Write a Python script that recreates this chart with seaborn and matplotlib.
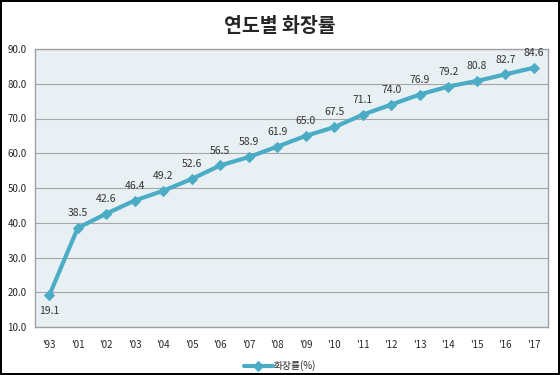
import matplotlib
matplotlib.use("Agg")
import matplotlib.pyplot as plt
import seaborn as sns
import pandas as pd

# 연도별 화장률 데이터
years = ["'93", "'01", "'02", "'03", "'04", "'05", "'06", "'07", "'08",
         "'09", "'10", "'11", "'12", "'13", "'14", "'15", "'16", "'17"]
rates = [19.1, 38.5, 42.6, 46.4, 49.2, 52.6, 56.5, 58.9, 61.9,
         65.0, 67.5, 71.1, 74.0, 76.9, 79.2, 80.8, 82.7, 84.6]
yticks = [10, 20, 30, 40, 50, 60, 70, 80, 90]

df = pd.DataFrame({"year": years, "rate": rates})
df["pos"] = range(len(df))

sns.set_style("white")
plt.rcParams["font.family"] = ["Noto Sans CJK KR", "DejaVu Sans"]

line_color = "#4BACC6"

fig = plt.figure(figsize=(5.6, 3.75), dpi=100)
fig.patch.set_edgecolor("black")
fig.patch.set_linewidth(1.5)
ax = fig.add_axes([35 / 560, 1 - 327 / 375, 513 / 560, 278 / 375])
ax.set_facecolor("#E9F0F4")

sns.lineplot(data=df, x="pos", y="rate", ax=ax, color=line_color, linewidth=3,
             marker="D", markersize=5, markeredgecolor=line_color,
             label="화장률(%)", legend=False)

for x, v in zip(df["pos"], df["rate"]):
    if x == 0:
        ax.annotate(f"{v:.1f}", (x, v), xytext=(0, -8), textcoords="offset points",
                    ha="center", va="top", fontsize=7.5, color="#333333")
    else:
        ax.annotate(f"{v:.1f}", (x, v), xytext=(0, 7), textcoords="offset points",
                    ha="center", va="bottom", fontsize=7.5, color="#333333")

ax.set_xlim(-0.5, len(years) - 0.5)
ax.set_ylim(10, 90)
ax.set_yticks(yticks)
ax.set_yticklabels([f"{t:.1f}" for t in yticks], fontsize=7)
ax.set_xticks(df["pos"])
ax.set_xticklabels(years, fontsize=7)
ax.tick_params(axis="x", length=0, pad=9)
ax.tick_params(axis="y", length=0, pad=6)
ax.grid(axis="y", color="#A6A6A6", linewidth=0.8)
ax.set_axisbelow(True)
for s in ax.spines.values():
    s.set_color("#A0A0A0")
    s.set_linewidth(1)
ax.set_xlabel("")
ax.set_ylabel("")

fig.text(0.5, 1 - 27 / 375, "연도별 화장률", ha="center", va="center",
         fontsize=14, fontweight="bold")

leg = ax.legend(loc="center", bbox_to_anchor=(0.5, 1 - 366 / 375),
                bbox_transform=fig.transFigure, frameon=False, fontsize=7,
                handlelength=3, handletextpad=0.1)

fig.savefig("out.png", dpi=100)
